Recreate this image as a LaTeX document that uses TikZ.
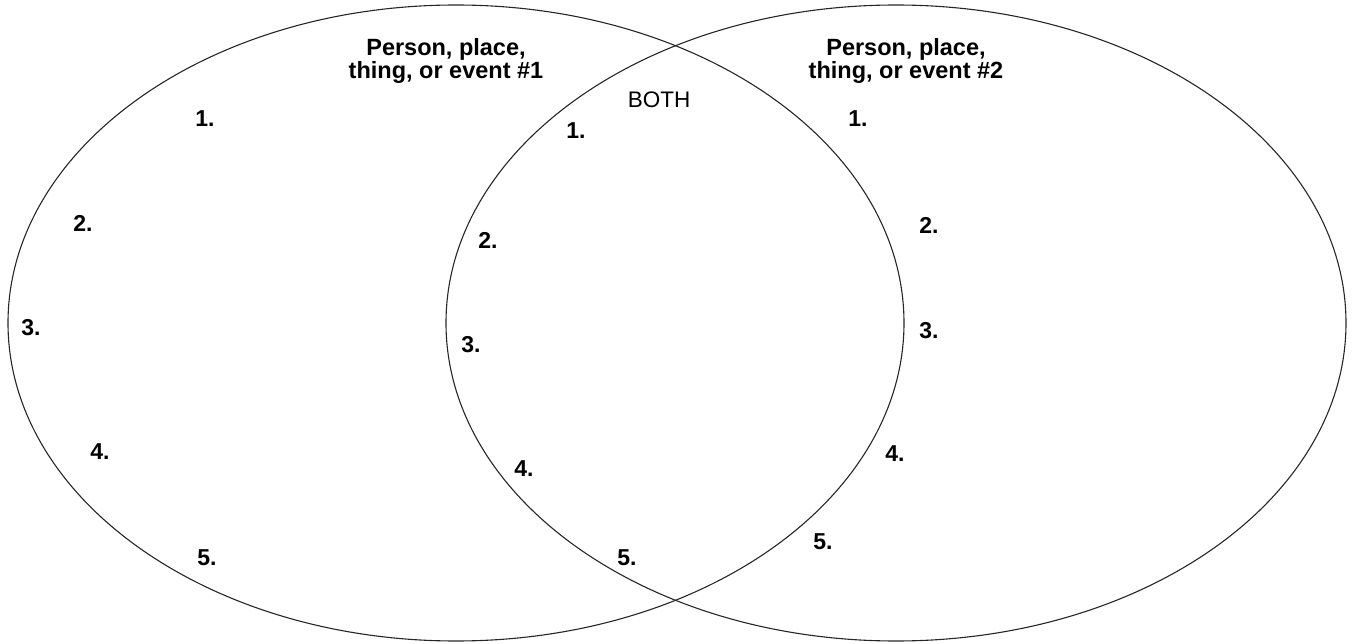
\documentclass[tikz,border=0pt]{standalone}
\usepackage{fontspec}
\setmainfont{Liberation Sans}
\begin{document}
\begin{tikzpicture}[x=1pt,y=-1pt,
  ring/.style={draw=black!85,line width=1.1pt},
  lbl/.style={font=\fontsize{23.5}{23}\selectfont\bfseries,inner sep=0pt,align=center},
  bothlbl/.style={font=\fontsize{22.5}{24}\selectfont,inner sep=0pt},
  num/.style={font=\fontsize{23}{24}\selectfont\bfseries,inner sep=0pt}]
\useasboundingbox (0,0) rectangle (1355,644);
\draw[ring] (456,323) ellipse [x radius=448, y radius=318];
\draw[ring] (896,323) ellipse [x radius=450, y radius=318];
\node[lbl] (t1) at (446,61) {Person, place,\\thing, or event \#1};
\node[lbl] (t2) at (906,61) {Person, place,\\thing, or event \#2};
\node[bothlbl] (both) at (659,100) {BOTH};
\node[num] (a1) at (205,119) {1.};
\node[num] (a2) at (83,223) {2.};
\node[num] (a3) at (31,328) {3.};
\node[num] (a4) at (100,452) {4.};
\node[num] (a5) at (207,558) {5.};
\node[num] (b1) at (576,131) {1.};
\node[num] (b2) at (488,240) {2.};
\node[num] (b3) at (471,345) {3.};
\node[num] (b4) at (524,469) {4.};
\node[num] (b5) at (627,558) {5.};
\node[num] (c1) at (858,119) {1.};
\node[num] (c2) at (929,225) {2.};
\node[num] (c3) at (929,331) {3.};
\node[num] (c4) at (895,454) {4.};
\node[num] (c5) at (823,542) {5.};
\end{tikzpicture}
\end{document}
